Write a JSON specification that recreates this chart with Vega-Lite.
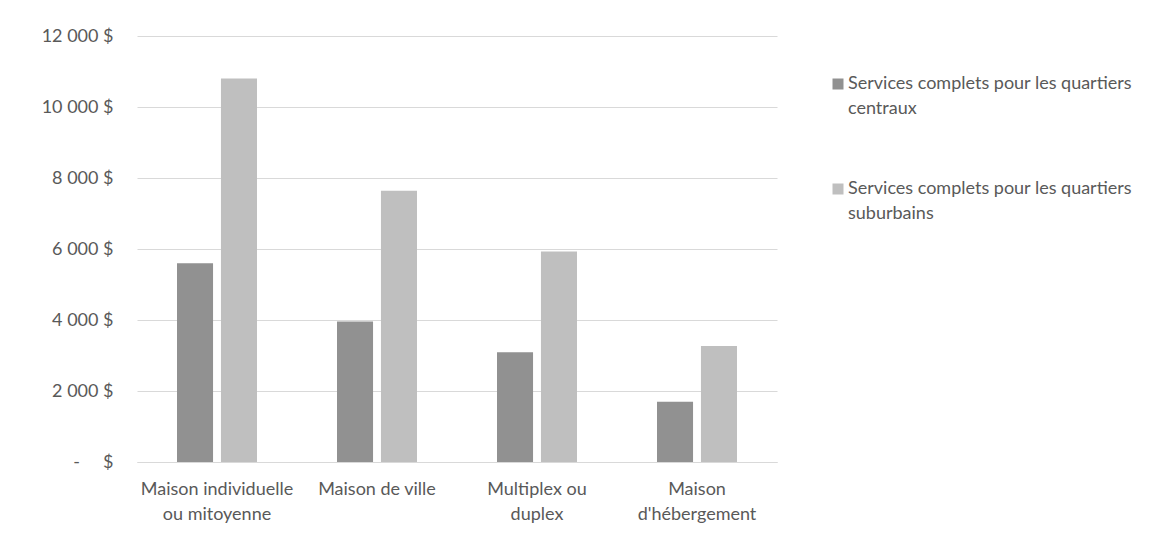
{
  "$schema": "https://vega.github.io/schema/vega-lite/v6.json",
  "autosize": {"type": "none"},
  "width": 640,
  "height": 426,
  "padding": {"left": 137, "top": 36, "right": 382, "bottom": 75},
  "background": "white",
  "config": {
    "font": "Lato",
    "view": {"stroke": null}
  },
  "data": {
    "values": [
      {"type": "Maison individuelle ou mitoyenne", "serie": "Services complets pour les quartiers centraux", "cout": 5600},
      {"type": "Maison individuelle ou mitoyenne", "serie": "Services complets pour les quartiers suburbains", "cout": 10800},
      {"type": "Maison de ville", "serie": "Services complets pour les quartiers centraux", "cout": 3960},
      {"type": "Maison de ville", "serie": "Services complets pour les quartiers suburbains", "cout": 7640},
      {"type": "Multiplex ou duplex", "serie": "Services complets pour les quartiers centraux", "cout": 3090},
      {"type": "Multiplex ou duplex", "serie": "Services complets pour les quartiers suburbains", "cout": 5930},
      {"type": "Maison d'hébergement", "serie": "Services complets pour les quartiers centraux", "cout": 1700},
      {"type": "Maison d'hébergement", "serie": "Services complets pour les quartiers suburbains", "cout": 3270}
    ]
  },
  "mark": {"type": "bar"},
  "encoding": {
    "x": {
      "field": "type",
      "type": "nominal",
      "sort": null,
      "title": null,
      "scale": {"paddingInner": 0.5, "paddingOuter": 0.25},
      "axis": {
        "labelAngle": 0,
        "labelFontSize": 18,
        "labelColor": "#595959",
        "labelPadding": 18,
        "labelLineHeight": 25,
        "labelBaseline": "top",
        "ticks": false,
        "domainColor": "#d9d9d9",
        "labelExpr": "datum.value == 'Maison individuelle ou mitoyenne' ? ['Maison individuelle', 'ou mitoyenne'] : datum.value == 'Multiplex ou duplex' ? ['Multiplex ou', 'duplex'] : datum.value == \"Maison d'hébergement\" ? ['Maison', \"d'hébergement\"] : datum.value"
      }
    },
    "xOffset": {
      "field": "serie",
      "type": "nominal",
      "scale": {"paddingInner": 0.18, "paddingOuter": 0}
    },
    "y": {
      "field": "cout",
      "type": "quantitative",
      "title": null,
      "scale": {"domain": [0, 12000]},
      "axis": {
        "values": [0, 2000, 4000, 6000, 8000, 10000, 12000],
        "domain": false,
        "ticks": false,
        "gridColor": "#d9d9d9",
        "labelFontSize": 18,
        "labelColor": "#595959",
        "labelPadding": 24,
        "labelExpr": "datum.value == 0 ? '-\u00a0\u00a0\u00a0\u00a0\u00a0$' : replace(format(datum.value, ','), ',', '\u00a0') + '\u00a0$'"
      }
    },
    "color": {
      "field": "serie",
      "type": "nominal",
      "scale": {"range": ["#919191", "#bfbfbf"]},
      "legend": {
        "title": null,
        "orient": "none",
        "legendX": 692,
        "legendY": 39,
        "symbolType": "square",
        "symbolSize": 121,
        "symbolStrokeWidth": 0,
        "labelFontSize": 18,
        "labelColor": "#595959",
        "labelBaseline": "top",
        "labelOffset": 1,
        "labelLimit": 400,
        "rowPadding": 62,
        "labelExpr": "datum.value == 'Services complets pour les quartiers centraux' ? ['Services complets pour les quartiers', 'centraux'] : ['Services complets pour les quartiers', 'suburbains']",
        "encode": {"labels": {"update": {"dy": {"value": -9}, "lineHeight": {"value": 25}}}}
      }
    }
  }
}
